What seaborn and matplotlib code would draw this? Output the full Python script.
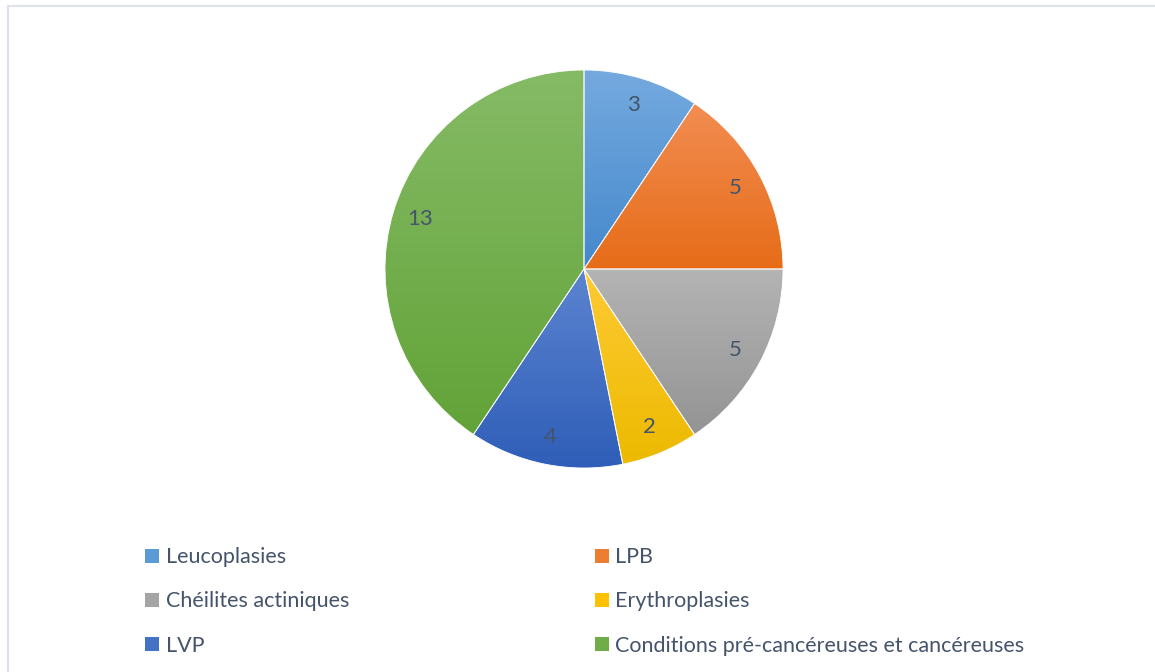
import numpy as np
import matplotlib
matplotlib.use("Agg")
import matplotlib.pyplot as plt
from matplotlib.colors import LinearSegmentedColormap
from matplotlib.lines import Line2D
from matplotlib.patches import Patch
import seaborn as sns

categories = ["Leucoplasies", "LPB", "Chéilites actiniques", "Erythroplasies",
              "LVP", "Conditions pré-cancéreuses et cancéreuses"]
values = [3, 5, 5, 2, 4, 13]

# gradient top / bottom colours per slice
top_colors = ["#75aadf", "#f28d52", "#b4b4b4", "#ffca35", "#5c84d0", "#86bb66"]
bot_colors = ["#4488cc", "#e66c18", "#949494", "#ecba00", "#2f5eb8", "#62a338"]
legend_colors = ["#5b9bd5", "#ed7d31", "#a5a5a5", "#ffc000", "#4472c4", "#70ad47"]

sns.set_theme(style="white")
plt.rcParams['font.family'] = ['Lato', 'DejaVu Sans']
text_color = "#44546a"

W, H = 1155, 672
fig = plt.figure(figsize=(W / 100, H / 100), dpi=100)
cx, cy, r = 584, 269, 200
ax = fig.add_axes([(cx - r) / W, 1 - (cy + r) / H, 2 * r / W, 2 * r / H])

total = sum(values)
wedges, texts, autotexts = ax.pie(
    values, colors=legend_colors, startangle=90, counterclock=False,
    autopct=lambda p: f"{round(p * total / 100)}", pctdistance=0.86,
    wedgeprops=dict(edgecolor="white", linewidth=0.6),
    textprops=dict(color=text_color, fontsize=16))
for w, t, b in zip(wedges, top_colors, bot_colors):
    ext = w.get_path().get_extents()
    cmap = LinearSegmentedColormap.from_list("g", [b, t])
    grad = np.linspace(0, 1, 256).reshape(-1, 1)
    im = ax.imshow(grad, cmap=cmap, origin="lower", aspect="auto",
                   extent=[ext.x0, ext.x1, ext.y0, ext.y1], zorder=1,
                   interpolation="bilinear")
    im.set_clip_path(w)
    w.set_facecolor("none")
    w.set_zorder(2)
for t in autotexts:
    t.set_zorder(3)
ax.set_xlim(-1.005, 1.005)
ax.set_ylim(-1.005, 1.005)
ax.set_aspect("equal")
ax.axis("off")

# legend laid out row by row (matplotlib fills columns first)
order = [0, 2, 4, 1, 3, 5]
handles = [Patch(facecolor=legend_colors[i], edgecolor="none") for i in order]
labels = [categories[i] for i in order]
leg = fig.legend(handles, labels, ncol=2, loc="upper left",
                 bbox_to_anchor=(126 / W, 1 - 528 / H), frameon=False,
                 fontsize=15.5, labelcolor=text_color, handlelength=0.65,
                 handleheight=0.6, handletextpad=0.3, columnspacing=11.4,
                 labelspacing=1.12)

border = "#dde2ea"
fig.add_artist(Line2D([8 / W, 1], [1 - 6 / H, 1 - 6 / H], color=border,
                      lw=1.5, transform=fig.transFigure))
fig.add_artist(Line2D([8 / W, 8 / W], [0, 1 - 6 / H], color=border,
                      lw=1.5, transform=fig.transFigure))

fig.savefig("out.png", dpi=100, facecolor="white")
